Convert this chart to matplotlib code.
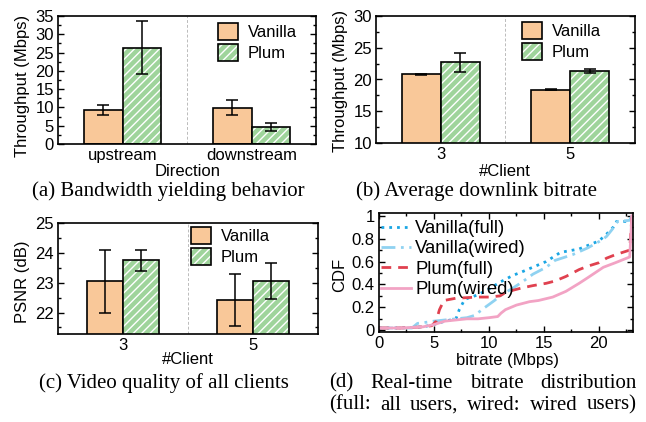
import matplotlib
matplotlib.use("Agg")
import matplotlib.pyplot as plt
from matplotlib.patches import Patch
from matplotlib.ticker import MultipleLocator
import numpy as np

# ---------------- data ----------------
dir_cats = ["upstream", "downstream"]
a_vanilla = [9.3, 9.9]
a_vanilla_err = [1.3, 2.0]
a_plum = [26.35, 4.7]
a_plum_err = [7.15, 1.1]

client_cats = ["3", "5"]
b_vanilla = [20.8, 18.4]
b_vanilla_err = [0.08, 0.08]
b_plum = [22.7, 21.35]
b_plum_err = [1.45, 0.25]

c_vanilla = [23.05, 22.43]
c_vanilla_err = [1.05, 0.87]
c_plum = [23.75, 23.05]
c_plum_err = [0.35, 0.6]

van_full_x = [0, 2, 4, 5, 6, 7, 7.3, 7.8, 9, 10, 11, 12.2, 13, 15.2, 16.5, 18.2, 20, 20.7, 21.3, 21.6, 22.8, 23.0]
van_full_y = [0.02, 0.02, 0.03, 0.05, 0.08, 0.10, 0.18, 0.27, 0.31, 0.36, 0.42, 0.48, 0.51, 0.60, 0.68, 0.71, 0.78, 0.84, 0.90, 0.95, 0.95, 1.0]
van_wired_x = [0, 3, 3.5, 4.3, 5, 6, 7, 8, 8.7, 9.5, 10.5, 11, 12.2, 13, 14, 15.2, 16, 17.6, 19, 20.3, 20.7, 21.2, 21.7, 22.8, 23.0]
van_wired_y = [0.02, 0.02, 0.06, 0.07, 0.08, 0.09, 0.10, 0.11, 0.13, 0.19, 0.26, 0.30, 0.37, 0.42, 0.49, 0.55, 0.61, 0.66, 0.72, 0.79, 0.82, 0.88, 0.95, 0.96, 1.0]
plum_full_x = [0, 2, 4, 4.8, 5.2, 5.5, 5.9, 7, 9, 10, 11, 11.5, 12.2, 13, 14, 15.2, 16, 17, 18.2, 19, 20, 20.7, 21.5, 22.8, 23.0]
plum_full_y = [0.02, 0.02, 0.03, 0.04, 0.08, 0.18, 0.26, 0.28, 0.29, 0.29, 0.30, 0.33, 0.35, 0.37, 0.39, 0.41, 0.43, 0.47, 0.53, 0.56, 0.59, 0.63, 0.66, 0.70, 1.0]
plum_wired_x = [0, 2, 4, 5, 6, 7, 8, 9, 10, 10.8, 11.1, 11.5, 12.5, 13.7, 14.5, 15.8, 17, 18.2, 19, 20.4, 21.5, 22.8, 23.0]
plum_wired_y = [0.02, 0.02, 0.03, 0.05, 0.08, 0.09, 0.10, 0.10, 0.11, 0.12, 0.15, 0.18, 0.22, 0.25, 0.26, 0.29, 0.34, 0.41, 0.46, 0.55, 0.59, 0.64, 1.0]

# ---------------- style ----------------
W, H = 646, 422
plt.rcParams["font.family"] = ["Liberation Sans", "DejaVu Sans"]
plt.rcParams["font.size"] = 12
plt.rcParams["hatch.linewidth"] = 1.0

ORANGE = "#f9c899"
GREEN = "#9fd49b"
SERIF = ["Liberation Serif", "DejaVu Serif"]

fig = plt.figure(figsize=(W / 100, H / 100), dpi=100)


def add_ax(l, t, r, b):
    return fig.add_axes([l / W, 1 - b / H, (r - l) / W, (b - t) / H])


def px2ax(box, px, py):
    l, t, r, b = box
    return (px - l) / (r - l), (b - py) / (b - t)


def style_ax(ax):
    ax.tick_params(which="both", direction="in", top=True, right=True,
                   width=1.0, labelsize=12)
    ax.tick_params(which="major", length=4, pad=3)
    ax.tick_params(which="minor", length=2.5)
    for s in ax.spines.values():
        s.set_linewidth(1.2)


def bar_panel(box, cats, van, van_err, plum, plum_err, ylim, yticks, width,
              xlabel, ylabel, xl_pos, yl_pos, leg_pos, minor=None):
    ax = add_ax(*box)
    x = np.arange(len(cats))
    ax.bar(x - width / 2, van, width, color=ORANGE, edgecolor="black",
           linewidth=1.2, zorder=2)
    ax.bar(x + width / 2, plum, width, color=GREEN, edgecolor="white",
           hatch="////", linewidth=0, zorder=2)
    ax.bar(x + width / 2, plum, width, fill=False, edgecolor="black",
           linewidth=1.2, zorder=3)
    ax.errorbar(x - width / 2, van, yerr=van_err, fmt="none", ecolor="black",
                elinewidth=1.1, capsize=4, capthick=1.1, zorder=4)
    ax.errorbar(x + width / 2, plum, yerr=plum_err, fmt="none", ecolor="black",
                elinewidth=1.1, capsize=4, capthick=1.1, zorder=4)
    ax.axvline(0.5, color="#bbbbbb", linestyle=(0, (3, 2)), linewidth=0.7, zorder=1)
    ax.set_xlim(-0.5, 1.5)
    ax.set_ylim(*ylim)
    ax.set_xticks(x)
    ax.set_xticklabels(cats)
    ax.set_yticks(yticks)
    if minor:
        ax.yaxis.set_minor_locator(MultipleLocator(minor))
    style_ax(ax)
    ax.tick_params(axis="x", which="both", top=False, bottom=False)
    ax.set_xlabel(xlabel, fontsize=12)
    ax.set_ylabel(ylabel, fontsize=12)
    ax.xaxis.label.set_va("center")
    ax.yaxis.label.set_va("center")
    ax.xaxis.set_label_coords(*px2ax(box, *xl_pos))
    ax.yaxis.set_label_coords(*px2ax(box, *yl_pos))
    h_v = Patch(facecolor=ORANGE, edgecolor="black", linewidth=1.2)
    h_p = (Patch(facecolor=GREEN, edgecolor="white", hatch="////", linewidth=0),
           Patch(fill=False, edgecolor="black", linewidth=1.2))
    ax.legend([h_v, h_p], ["Vanilla", "Plum"], loc="upper left",
              bbox_to_anchor=px2ax(box, *leg_pos), frameon=False, borderpad=0,
              borderaxespad=0, handlelength=1.2, handleheight=1.15,
              handletextpad=0.6, labelspacing=0.25, fontsize=12)
    return ax


# (a)
box_a = (58, 16, 316, 144)
bar_panel(box_a, dir_cats, a_vanilla, a_vanilla_err, a_plum, a_plum_err,
          (0, 35), [0, 5, 10, 15, 20, 25, 30, 35], 0.30,
          "Direction", "Throughput (Mbps)", (188, 171), (23, 86),
          (218, 23), minor=2.5)

# (b)
box_b = (376, 16, 635, 143)
bar_panel(box_b, client_cats, b_vanilla, b_vanilla_err, b_plum, b_plum_err,
          (10, 30), [10, 15, 20, 25, 30], 0.30,
          "#Client", "Throughput (Mbps)", (505, 172), (341, 81),
          (522, 22), minor=2.5)

# (c)
box_c = (58, 223, 318, 334)
bar_panel(box_c, client_cats, c_vanilla, c_vanilla_err, c_plum, c_plum_err,
          (21.28, 25), [22, 23, 24, 25], 0.28,
          "#Client", "PSNR (dB)", (188, 359), (23, 282),
          (191, 227), minor=0.5)

# (d)
box_d = (379, 213, 633, 332)
ax = add_ax(*box_d)
ax.plot(van_full_x, van_full_y, color="#1aa6e4", linestyle=(0, (1, 1.8)),
        linewidth=2.0, label="Vanilla(full)")
ax.plot(van_wired_x, van_wired_y, color="#8fd2f1", linestyle=(0, (5, 2, 1, 2)),
        linewidth=2.0, label="Vanilla(wired)")
ax.plot(plum_full_x, plum_full_y, color="#e0414f", linestyle=(0, (3.5, 2.5)),
        linewidth=2.0, label="Plum(full)")
ax.plot(plum_wired_x, plum_wired_y, color="#f2a3c4", linestyle="-",
        linewidth=2.0, label="Plum(wired)")
ax.set_xlim(0, 23.1)
ax.set_ylim(-0.015, 1.024)
ax.set_xticks([0, 5, 10, 15, 20])
ax.xaxis.set_minor_locator(MultipleLocator(2.5))
ax.set_yticks([0, 0.2, 0.4, 0.6, 0.8, 1.0])
ax.set_yticklabels(["0", "0.2", "0.4", "0.6", "0.8", "1"])
ax.yaxis.set_minor_locator(MultipleLocator(0.1))
style_ax(ax)
ax.set_xlabel("bitrate (Mbps)", fontsize=12)
ax.set_ylabel("CDF", fontsize=12)
ax.xaxis.label.set_va("center")
ax.yaxis.label.set_va("center")
ax.xaxis.set_label_coords(*px2ax(box_d, 507, 360))
ax.yaxis.set_label_coords(*px2ax(box_d, 340, 275))
ax.legend(loc="upper left", bbox_to_anchor=px2ax(box_d, 381, 220),
          frameon=False, borderpad=0, borderaxespad=0, handlelength=1.6,
          handletextpad=0.25, labelspacing=0.18, fontsize=13.3)

# captions
CAP_FS = 15


def cap(px, py, s, ha="center"):
    return fig.text(px / W, 1 - py / H, s, ha=ha, va="center", family=SERIF,
                    fontsize=CAP_FS)


def cap_justified(words, left, right, py):
    texts = [cap(left, py, w, ha="left") for w in words]
    renderer = fig.canvas.get_renderer()
    widths = [t.get_window_extent(renderer).width for t in texts]
    gap = (right - left - sum(widths)) / (len(words) - 1)
    x = left
    for t, w in zip(texts, widths):
        t.set_x(x / W)
        x += w + gap


cap(168, 191, "(a) Bandwidth yielding behavior")
cap(476, 191, "(b) Average downlink bitrate")
cap(164, 383, "(c) Video quality of all clients")
cap_justified(["(d)", "Real-time", "bitrate", "distribution"], 329, 637, 383)
cap_justified(["(full:", "all", "users,", "wired:", "wired", "users)"], 329, 637, 405)

fig.savefig("out.png", dpi=100)
